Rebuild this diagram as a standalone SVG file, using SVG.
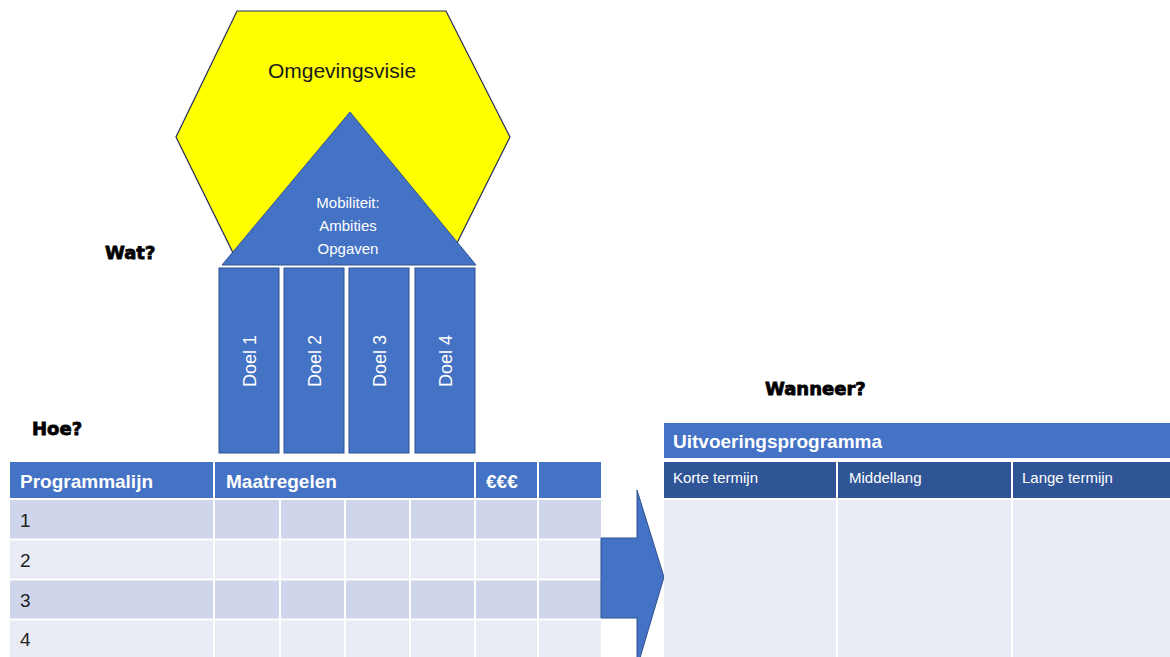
<svg xmlns="http://www.w3.org/2000/svg" width="1170" height="657" viewBox="0 0 1170 657">
<style>
.t{font-family:"Liberation Sans",Arial,sans-serif}
.hw{font-family:"Liberation Sans",Arial,sans-serif;font-weight:bold;font-size:19px;fill:#fff}
.q{font-family:"DejaVu Sans","Liberation Sans",sans-serif;font-weight:bold;font-size:18px;fill:#000;stroke:#000;stroke-width:0.8}
.doel{fill:#4472C4;stroke:#2F528F;stroke-width:1}
.dt{font-family:"Liberation Sans",Arial,sans-serif;font-size:18px;fill:#fff}
.r1{fill:#CFD5EA}
.r2{fill:#E9EBF5}
.hd{fill:#4472C4}
.sub{fill:#2F5597}
.wl{stroke:#fff;stroke-width:2}
.num{font-family:"Liberation Sans",Arial,sans-serif;font-size:19px;fill:#222}
.st{font-family:"Liberation Sans",Arial,sans-serif;font-size:15px;fill:#fff}
</style>
<rect width="1170" height="657" fill="#fff"/>
<g id="omgevingsvisie">
<polygon points="237,11 446,11 510,137 447,263 238,263 176,137" fill="#FFFF00" stroke="#1F2A5A" stroke-width="1.2"/>
<text class="t" x="342" y="78" font-size="21" text-anchor="middle" fill="#1a1a1a">Omgevingsvisie</text>
</g>
<g id="mobiliteit">
<polygon points="350,112 476,265 222,265" fill="#4472C4" stroke="#2F528F" stroke-width="1"/>
<text class="t" font-size="15" fill="#fff" text-anchor="middle"><tspan x="348" y="208">Mobiliteit:</tspan><tspan x="348" y="231">Ambities</tspan><tspan x="348" y="254">Opgaven</tspan></text>
</g>
<g id="doel1"><rect class="doel" x="219" y="268" width="60" height="185"/><text class="dt" transform="translate(256,361) rotate(-90)" text-anchor="middle">Doel 1</text></g>
<g id="doel2"><rect class="doel" x="284" y="268" width="60" height="185"/><text class="dt" transform="translate(321,361) rotate(-90)" text-anchor="middle">Doel 2</text></g>
<g id="doel3"><rect class="doel" x="349" y="268" width="60" height="185"/><text class="dt" transform="translate(386,361) rotate(-90)" text-anchor="middle">Doel 3</text></g>
<g id="doel4"><rect class="doel" x="415" y="268" width="60" height="185"/><text class="dt" transform="translate(452,361) rotate(-90)" text-anchor="middle">Doel 4</text></g>
<g id="labels">
<text class="q" x="105" y="259">Wat?</text>
<text class="q" x="32" y="435">Hoe?</text>
<text class="q" x="765" y="395">Wanneer?</text>
</g>
<g id="programma-tabel">
<rect class="hd" x="10" y="462" width="591" height="36"/>
<rect class="r1" x="10" y="500" width="591" height="39"/>
<rect class="r2" x="10" y="540" width="591" height="39"/>
<rect class="r1" x="10" y="580" width="591" height="39"/>
<rect class="r2" x="10" y="620" width="591" height="37"/>
<line class="wl" x1="214" y1="462" x2="214" y2="657"/>
<line class="wl" x1="475" y1="462" x2="475" y2="657"/>
<line class="wl" x1="538" y1="462" x2="538" y2="657"/>
<line class="wl" x1="280" y1="499" x2="280" y2="657"/>
<line class="wl" x1="345" y1="499" x2="345" y2="657"/>
<line class="wl" x1="410" y1="499" x2="410" y2="657"/>
<line class="wl" x1="10" y1="499" x2="601" y2="499"/>
<line class="wl" x1="10" y1="539.5" x2="601" y2="539.5"/>
<line class="wl" x1="10" y1="579.5" x2="601" y2="579.5"/>
<line class="wl" x1="10" y1="619.5" x2="601" y2="619.5"/>
<text class="hw" x="20" y="488">Programmalijn</text>
<text class="hw" x="226" y="488">Maatregelen</text>
<text class="hw" x="486" y="488">€€€</text>
<text class="num" x="20" y="527">1</text>
<text class="num" x="20" y="567">2</text>
<text class="num" x="20" y="607">3</text>
<text class="num" x="20" y="646">4</text>
</g>
<g id="connectors">
<polygon points="601,538 637,538 637,490 664,577 637,668 637,618 601,618" fill="#4472C4" stroke="#2F528F" stroke-width="1"/>
</g>
<g id="uitvoeringsprogramma">
<rect class="hd" x="664" y="423" width="506" height="35"/>
<rect class="sub" x="664" y="462" width="506" height="36"/>
<rect class="r2" x="664" y="500" width="506" height="157"/>
<line class="wl" x1="837" y1="462" x2="837" y2="657"/>
<line class="wl" x1="1012" y1="462" x2="1012" y2="657"/>
<text class="hw" x="673" y="448">Uitvoeringsprogramma</text>
<text class="st" x="673" y="483">Korte termijn</text>
<text class="st" x="849" y="483">Middellang</text>
<text class="st" x="1022" y="483">Lange termijn</text>
</g>
</svg>
